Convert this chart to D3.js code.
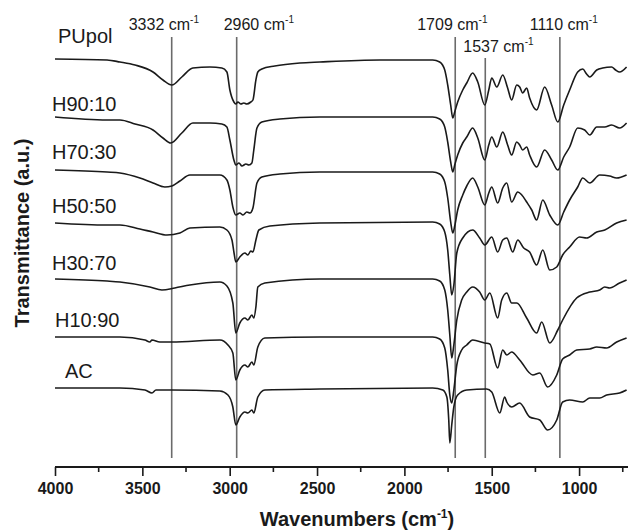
<!DOCTYPE html>
<html>
<head>
<meta charset="utf-8">
<script src="https://cdn.jsdelivr.net/npm/d3@7"></script>
<style>
  body { margin: 0; background: #fff; }
  svg text { font-family: "Liberation Sans", Arial, sans-serif; fill: #1a1a1a; }
</style>
</head>
<body>
<div id="chart"></div>
<script>
/* FTIR spectra of PUpol, the H blends and AC, stacked with offsets */

// sample names, top to bottom
const samples = ["PUpol", "H90:10", "H70:30", "H50:50", "H30:70", "H10:90", "AC"];

// vertical offset of each trace (transmittance, a.u.)
const offsets = [408, 350, 297, 244, 188, 130, 79];

// each spectrum: [wavenumber, depth of the band below the trace baseline]
const pupol = [[4000,0],[3702,1],[3628,3],[3542,6],[3439,13],[3382,21],[3331,26],[3274,18],[3211,9],[3113,8],[3045,9],[3016,13],[2999,31],[2976,43],[2965,45],[2953,43],[2936,45],[2919,44],[2902,45],[2879,43],[2867,41],[2850,21],[2839,13],[2816,10],[2742,7],[2598,4],[2484,3],[2141,1],[1838,1],[1798,3],[1769,11],[1752,26],[1735,46],[1723,59],[1712,53],[1695,43],[1666,31],[1643,24],[1609,14],[1580,23],[1540,46],[1517,31],[1500,19],[1471,28],[1437,16],[1409,29],[1386,41],[1357,26],[1340,28],[1323,34],[1300,29],[1283,39],[1243,51],[1197,28],[1157,46],[1122,63],[1088,46],[1054,31],[1008,13],[979,10],[957,15],[939,18],[899,11],[865,9],[814,8],[791,11],[768,13],[728,8]];

const h9010 = [[4000,0],[3702,3],[3628,3],[3542,7],[3439,13],[3382,21],[3337,26],[3274,16],[3211,6],[3113,6],[3045,7],[3016,10],[2999,23],[2976,43],[2965,48],[2947,46],[2930,49],[2907,47],[2890,48],[2873,46],[2862,33],[2844,11],[2816,5],[2713,2],[2484,0],[1838,0],[1798,2],[1769,10],[1752,25],[1735,45],[1723,55],[1712,48],[1695,38],[1666,26],[1643,20],[1609,11],[1580,21],[1540,43],[1517,28],[1500,20],[1471,30],[1437,15],[1409,28],[1386,38],[1357,25],[1340,28],[1323,33],[1300,30],[1283,38],[1243,50],[1197,33],[1157,43],[1122,53],[1088,40],[1054,30],[1008,11],[968,13],[939,18],[899,10],[853,10],[814,8],[768,11],[728,6]];

const h7030 = [[4000,0],[3702,2],[3628,3],[3514,8],[3439,13],[3371,17],[3331,16],[3285,11],[3228,5],[3056,5],[3016,10],[2999,20],[2982,37],[2965,45],[2942,43],[2924,45],[2902,42],[2884,43],[2867,38],[2844,13],[2816,7],[2713,4],[2484,2],[1838,2],[1798,4],[1769,12],[1752,28],[1735,52],[1723,63],[1712,56],[1695,40],[1666,25],[1643,16],[1609,8],[1580,17],[1540,35],[1517,23],[1500,17],[1466,33],[1437,18],[1414,13],[1386,32],[1351,22],[1328,25],[1300,32],[1271,40],[1243,50],[1208,30],[1168,45],[1122,55],[1088,42],[1054,30],[1008,17],[979,8],[939,13],[882,5],[825,6],[785,8],[728,5]];

const h5050 = [[4000,0],[3702,2],[3628,2],[3514,6],[3439,9],[3359,12],[3285,10],[3228,5],[3056,4],[3016,7],[2987,17],[2976,29],[2965,39],[2942,34],[2913,30],[2896,32],[2879,28],[2867,29],[2850,17],[2833,7],[2770,3],[2484,0],[1838,-1],[1798,1],[1769,9],[1752,27],[1740,52],[1729,72],[1717,62],[1700,30],[1666,15],[1609,7],[1569,15],[1540,22],[1500,14],[1466,29],[1437,17],[1414,15],[1380,29],[1351,17],[1317,25],[1283,29],[1243,42],[1208,27],[1168,47],[1128,44],[1094,32],[1054,24],[997,14],[957,15],[899,9],[853,7],[785,0],[728,-3]];

const h3070 = [[4000,0],[3702,2],[3628,3],[3457,8],[3388,11],[3314,9],[3228,6],[3056,3],[3016,7],[2982,24],[2965,54],[2942,44],[2913,39],[2896,41],[2873,36],[2862,39],[2850,28],[2839,8],[2799,4],[2484,0],[1838,0],[1798,2],[1769,11],[1752,31],[1740,56],[1729,79],[1717,66],[1700,41],[1672,21],[1643,13],[1609,8],[1569,13],[1540,21],[1511,14],[1466,39],[1443,21],[1414,14],[1386,24],[1357,24],[1300,39],[1243,54],[1214,43],[1168,64],[1122,51],[1094,41],[1014,19],[939,13],[882,11],[853,8],[825,9],[768,4],[728,1]];

const h1090 = [[4000,0],[3628,0],[3485,3],[3457,5],[3445,3],[3400,5],[3331,5],[3056,3],[3010,8],[2982,16],[2965,43],[2942,33],[2913,28],[2896,30],[2873,25],[2862,28],[2839,10],[2799,1],[2484,0],[1838,0],[1798,2],[1769,11],[1752,33],[1740,58],[1729,66],[1717,53],[1700,28],[1672,13],[1643,8],[1609,3],[1540,6],[1511,7],[1466,31],[1437,13],[1414,18],[1386,15],[1340,23],[1265,38],[1225,36],[1180,50],[1128,38],[1094,22],[1054,18],[1014,13],[939,12],[899,10],[842,11],[785,5],[728,1]];

const ac = [[4000,0],[3628,0],[3485,2],[3445,5],[3422,2],[3331,2],[3056,3],[3010,7],[2982,19],[2965,37],[2942,29],[2913,24],[2896,25],[2873,22],[2862,25],[2839,9],[2799,2],[2484,1],[1838,0],[1780,2],[1757,9],[1746,32],[1740,55],[1729,37],[1717,19],[1695,7],[1643,2],[1529,1],[1500,4],[1454,25],[1426,9],[1414,14],[1386,19],[1340,15],[1283,29],[1225,32],[1180,42],[1128,32],[1094,14],[1054,12],[979,14],[939,10],[882,10],[842,7],[768,5],[728,2]];

const spectra = [pupol, h9010, h7030, h5050, h3070, h1090, ac];

// marked bands
const bands = [3332, 2960, 1709, 1537, 1110];

// x axis ticks
const majorTicks = [4000, 3500, 3000, 2500, 2000, 1500, 1000];
const minorTicks = [3750, 3250, 2750, 2250, 1750, 1250, 750];

const width = 628, height = 530;
const margin = { top: 27, right: 0, bottom: 63, left: 55 };

const svg = d3.select("#chart").append("svg")
    .attr("width", width)
    .attr("height", height);

/* wavenumbers run right to left */
const x = d3.scaleLinear()
    .domain([4000, 720])
    .range([margin.left, width - margin.right]);

const y = d3.scaleLinear()
    .domain([0, 440])
    .range([height - margin.bottom, margin.top]);

/* band lines, drawn under the spectra */
const bandTop = { 3332: 37, 2960: 37, 1709: 37, 1537: 58, 1110: 37 };
svg.append("g")
    .selectAll("line")
    .data(bands)
    .join("line")
    .attr("x1", d => x(d))
    .attr("x2", d => x(d))
    .attr("y1", d => bandTop[d])
    .attr("y2", 458)
    .attr("stroke", "#6b6b6b")
    .attr("stroke-width", 1.6);

/* band labels, with left edge offset from the line */
const bandDx = { 3332: -43, 2960: -13, 1709: -38, 1537: -22, 1110: -30 };
const bandY = { 3332: 30, 2960: 30, 1709: 30, 1537: 52, 1110: 30 };
const bandText = svg.append("g")
    .selectAll("text")
    .data(bands)
    .join("text")
    .attr("x", d => x(d) + bandDx[d])
    .attr("y", d => bandY[d])
    .style("font-size", "16px");
bandText.append("tspan").text(d => d + " cm");
bandText.append("tspan")
    .attr("dy", -7)
    .style("font-size", "10px")
    .text("-1");

/* spectra */
const line = d3.line()
    .x(d => x(d[0]))
    .y(d => d[1])
    .curve(d3.curveMonotoneX);

svg.append("g")
    .selectAll("path")
    .data(spectra)
    .join("path")
    .attr("fill", "none")
    .attr("stroke", "#1a1a1a")
    .attr("stroke-width", 1.6)
    .attr("stroke-linejoin", "round")
    .attr("d", (s, i) => line(s.map(p => [p[0], y(offsets[i] - p[1])])));

/* sample labels */
const labelX = [58, 52, 52, 52, 52, 55, 65];
const labelLift = [16, 6, 11, 10, 9, 10, 10];
svg.append("g")
    .selectAll("text")
    .data(samples)
    .join("text")
    .attr("x", (d, i) => labelX[i])
    .attr("y", (d, i) => y(offsets[i]) - labelLift[i])
    .style("font-size", "20px")
    .text(d => d);

/* x axis */
const axisY = height - margin.bottom;
const axis = svg.append("g")
    .attr("transform", `translate(0, ${axisY})`)
    .call(d3.axisBottom(x)
        .tickValues(majorTicks)
        .tickSize(9)
        .tickPadding(7)
        .tickFormat(d3.format("d")));
axis.select(".domain")
    .attr("d", `M${x(4000)},0H${width}`)
    .attr("stroke", "#1a1a1a")
    .attr("stroke-width", 1.8);
axis.selectAll(".tick line").attr("stroke", "#1a1a1a").attr("stroke-width", 1.6);
axis.selectAll(".tick text")
    .style("font-size", "16px")
    .style("font-weight", "bold")
    .attr("fill", "#1a1a1a");

svg.append("g")
    .selectAll("line")
    .data(minorTicks)
    .join("line")
    .attr("x1", d => x(d))
    .attr("x2", d => x(d))
    .attr("y1", axisY)
    .attr("y2", axisY + 5)
    .attr("stroke", "#1a1a1a")
    .attr("stroke-width", 1.6);

/* axis titles */
const xTitle = svg.append("text")
    .attr("x", 357)
    .attr("y", 526)
    .attr("text-anchor", "middle")
    .style("font-size", "20px")
    .style("font-weight", "bold");
xTitle.append("tspan").text("Wavenumbers (cm");
xTitle.append("tspan").attr("dy", -8).style("font-size", "12px").text("-1");
xTitle.append("tspan").attr("dy", 8).text(")");

svg.append("text")
    .attr("transform", "translate(29, 233) rotate(-90)")
    .attr("text-anchor", "middle")
    .style("font-size", "20px")
    .style("font-weight", "bold")
    .text("Transmittance (a.u.)");
</script>
</body>
</html>
